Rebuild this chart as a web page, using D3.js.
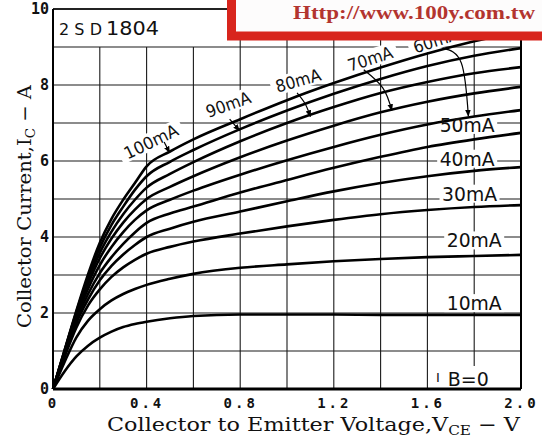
<!DOCTYPE html>
<html><head><meta charset="utf-8">
<script src="https://cdn.jsdelivr.net/npm/d3@7"></script>
<style>body{margin:0;background:#fff}svg{display:block}</style>
</head><body>
<svg id="c" width="542" height="443"></svg>
<script>
// ---- data ----
const vce = [0, 0.05, 0.1, 0.15, 0.2, 0.25, 0.3, 0.35, 0.4, 0.5, 0.6, 0.8, 1.0, 1.2, 1.4, 1.6, 1.8, 2.0];
const ib10  = [0, 0.47, 0.86, 1.14, 1.35, 1.51, 1.63, 1.71, 1.77, 1.86, 1.92, 1.96, 1.96, 1.96, 1.95, 1.95, 1.95, 1.95];
const ib20  = [0, 0.72, 1.36, 1.80, 2.10, 2.33, 2.50, 2.63, 2.74, 2.90, 3.03, 3.19, 3.28, 3.36, 3.42, 3.47, 3.50, 3.53];
const ib30  = [0, 0.85, 1.62, 2.20, 2.62, 2.95, 3.20, 3.40, 3.56, 3.74, 3.88, 4.09, 4.28, 4.45, 4.60, 4.71, 4.79, 4.84];
const ib40  = [0, 0.90, 1.74, 2.36, 2.86, 3.24, 3.54, 3.79, 4.00, 4.22, 4.40, 4.67, 4.94, 5.20, 5.42, 5.60, 5.74, 5.84];
const ib50  = [0, 0.94, 1.82, 2.50, 3.05, 3.47, 3.82, 4.12, 4.37, 4.62, 4.80, 5.17, 5.50, 5.82, 6.11, 6.37, 6.57, 6.74];
const ib60  = [0, 0.97, 1.90, 2.64, 3.26, 3.74, 4.13, 4.45, 4.70, 4.98, 5.22, 5.64, 6.02, 6.37, 6.69, 6.96, 7.17, 7.34];
const ib70  = [0, 0.99, 1.96, 2.76, 3.44, 3.96, 4.38, 4.72, 5.00, 5.32, 5.60, 6.10, 6.54, 6.93, 7.28, 7.56, 7.78, 7.95];
const ib80  = [0, 1.01, 2.00, 2.86, 3.58, 4.14, 4.60, 4.98, 5.30, 5.66, 5.97, 6.52, 7.00, 7.42, 7.79, 8.08, 8.31, 8.47];
const ib90  = [0, 1.02, 2.03, 2.94, 3.72, 4.32, 4.80, 5.24, 5.60, 5.98, 6.29, 6.84, 7.33, 7.77, 8.16, 8.50, 8.77, 8.97];
const ib100 = [0, 1.03, 2.06, 3.02, 3.85, 4.48, 4.98, 5.42, 5.86, 6.25, 6.57, 7.10, 7.60, 8.05, 8.46, 8.83, 9.15, 9.42];
const ib0   = [0, 0, 0, 0, 0, 0, 0, 0, 0, 0, 0, 0, 0, 0, 0, 0, 0, 0];
const seriesList = [ib0, ib10, ib20, ib30, ib40, ib50, ib60, ib70, ib80, ib90, ib100];

const xTickValues = [0, 0.4, 0.8, 1.2, 1.6, 2.0];
const xTickLabels = ["0", "0.4", "0.8", "1.2", "1.6", "2.0"];
const yTickValues = [0, 2, 4, 6, 8, 10];
const yTickLabels = ["0", "2", "4", "6", "8", "10"];

const partName = ["2SD", "1804"];
// upright labels: text, anchor VCE, anchor IC (centre)
const flatLabels = [
  {t: "50mA", x: 1.77, y: 6.95},
  {t: "40mA", x: 1.77, y: 6.06},
  {t: "30mA", x: 1.78, y: 5.14},
  {t: "20mA", x: 1.80, y: 3.91},
  {t: "10mA", x: 1.80, y: 2.26},
];
// rotated labels: text, centre (VCE, IC), angle
const slantLabels = [
  {t: "100mA", x: 0.418, y: 6.52, a: -26},
  {t: "90mA",  x: 0.748, y: 7.50, a: -20},
  {t: "80mA",  x: 1.047, y: 8.13, a: -16},
  {t: "70mA",  x: 1.355, y: 8.70, a: -18},
  {t: "60mA",  x: 1.635, y: 9.18, a: -18},
];
// arrows: list of (VCE, IC) points from label to curve
const arrows = [
  [[0.475, 6.50], [0.498, 6.22]],
  [[0.755, 7.10], [0.797, 6.80]],
  [[1.043, 7.79], [1.078, 7.50], [1.100, 7.17]],
  [[1.328, 8.40], [1.410, 7.92], [1.448, 7.33]],
  [[1.665, 8.97], [1.745, 8.58], [1.775, 7.18]],
];
const stampText = "Http://www.100y.com.tw";

// ---- drawing ----
const svg = d3.select("#c");
svg.append("rect").attr("width", 542).attr("height", 443).attr("fill", "#fff");

const x = d3.scaleLinear().domain([0, 2]).range([53, 521]);
const y = d3.scaleLinear().domain([0, 10]).range([389, 9]);

const grid = svg.append("g").attr("stroke", "#1a1a1a").attr("stroke-width", 1.1);
d3.range(0, 2.0001, 0.2).forEach(v => {
  const top = (v > 0.01 && v < 0.79) ? y(9) : y(10);
  grid.append("line").attr("x1", x(v)).attr("x2", x(v)).attr("y1", top).attr("y2", y(0));
});
d3.range(0, 10.001, 1).forEach(v => {
  grid.append("line").attr("x1", x(0)).attr("x2", x(2)).attr("y1", y(v)).attr("y2", y(v));
});
// frame
svg.append("line").attr("x1", x(0)).attr("x2", x(0)).attr("y1", y(10)).attr("y2", y(0)).attr("stroke", "#000").attr("stroke-width", 2);
svg.append("line").attr("x1", x(2)).attr("x2", x(2)).attr("y1", y(10)).attr("y2", y(0)).attr("stroke", "#000").attr("stroke-width", 2);
svg.append("line").attr("x1", x(0)).attr("x2", x(2)).attr("y1", y(10)).attr("y2", y(10)).attr("stroke", "#000").attr("stroke-width", 1.6);

// part number
svg.append("text").attr("x", 59).attr("y", 35).attr("font-family", "DejaVu Sans").attr("font-size", 16)
  .attr("textLength", 43).attr("lengthAdjust", "spacing").attr("fill", "#111").text(partName[0]);
svg.append("text").attr("x", 106).attr("y", 35).attr("font-family", "DejaVu Sans").attr("font-size", 20)
  .attr("textLength", 53).attr("lengthAdjust", "spacingAndGlyphs").attr("fill", "#111").text(partName[1]);

const labelFont = "DejaVu Sans";
// white backing for labels (interrupt grid)
flatLabels.forEach(d => {
  svg.append("rect").attr("x", x(d.x) - 30).attr("y", y(d.y) - 9).attr("width", 60).attr("height", 18).attr("fill", "#fff");
});
slantLabels.forEach(d => {
  const w = d.t.length * 12.5 + 6;
  svg.append("rect").attr("transform", `translate(${x(d.x)},${y(d.y)}) rotate(${d.a})`)
    .attr("x", -w / 2).attr("y", -9).attr("width", w).attr("height", 18).attr("fill", "#fff");
});
// IB=0 backing
svg.append("rect").attr("x", 434).attr("y", 366).attr("width", 64).attr("height", 22).attr("fill", "#fff");

// curves
const line = d3.line().x((d, i) => x(vce[i])).y(d => y(d)).curve(d3.curveMonotoneX);
svg.append("g").selectAll("path").data(seriesList).join("path")
  .attr("d", d => line(d)).attr("fill", "none").attr("stroke", "#000")
  .attr("stroke-width", (d, i) => i === 0 ? 3 : 2.6).attr("stroke-linejoin", "round");

// labels
flatLabels.forEach(d => {
  svg.append("text").attr("x", x(d.x)).attr("y", y(d.y) + 7).attr("text-anchor", "middle")
    .attr("font-family", labelFont).attr("font-size", 19).attr("fill", "#111")
    .attr("textLength", 55).attr("lengthAdjust", "spacingAndGlyphs").text(d.t);
});
slantLabels.forEach(d => {
  svg.append("text").attr("transform", `translate(${x(d.x)},${y(d.y)}) rotate(${d.a})`)
    .attr("y", 6.5).attr("text-anchor", "middle")
    .attr("font-family", labelFont).attr("font-size", 17).attr("fill", "#111")
    .attr("textLength", d.t.length * 11.6).attr("lengthAdjust", "spacingAndGlyphs").text(d.t);
});
const ibT = svg.append("text").attr("x", 436).attr("y", 386).attr("font-family", labelFont).attr("fill", "#111");
ibT.append("tspan").attr("font-size", 13).attr("dy", -4).text("I");
ibT.append("tspan").attr("font-size", 19).attr("dx", 8).attr("dy", 4).attr("textLength", 41).attr("lengthAdjust", "spacingAndGlyphs").text("B=0");

// arrows
const defs = svg.append("defs");
defs.append("marker").attr("id", "ah").attr("viewBox", "0 0 10 10").attr("refX", 9).attr("refY", 5)
  .attr("markerWidth", 7).attr("markerHeight", 7).attr("orient", "auto-start-reverse").attr("markerUnits", "userSpaceOnUse")
  .append("path").attr("d", "M0,1 L10,5 L0,9 Z").attr("fill", "#000");
const aLine = d3.line().x(d => x(d[0])).y(d => y(d[1])).curve(d3.curveNatural);
svg.append("g").selectAll("path").data(arrows).join("path")
  .attr("d", d => aLine(d)).attr("fill", "none").attr("stroke", "#000").attr("stroke-width", 1.2)
  .attr("marker-end", "url(#ah)");

// tick labels
const xAxis = d3.axisBottom(x).tickValues(xTickValues).tickSize(0).tickPadding(0)
  .tickFormat((d, i) => xTickLabels[i]);
const gx = svg.append("g").attr("transform", "translate(0,397)").call(xAxis);
gx.select(".domain").remove();
gx.selectAll("text").attr("font-family", "DejaVu Sans Mono").attr("font-weight", "bold")
  .attr("font-size", 14).attr("letter-spacing", 3).attr("dy", "0.8em").attr("fill", "#111");

const yAxis = d3.axisLeft(y).tickValues(yTickValues).tickSize(0).tickPadding(4)
  .tickFormat((d, i) => yTickLabels[i]);
const gy = svg.append("g").attr("transform", "translate(53,0)").call(yAxis);
gy.select(".domain").remove();
gy.selectAll("text").attr("font-family", "DejaVu Sans Mono").attr("font-weight", "bold")
  .attr("font-size", 15).attr("fill", "#111");

// axis titles
const xt = svg.append("text").attr("x", 107).attr("y", 431).attr("font-family", "DejaVu Serif")
  .attr("font-size", 19).attr("fill", "#111").attr("textLength", 413).attr("lengthAdjust", "spacingAndGlyphs");
xt.append("tspan").text("Collector to Emitter Voltage,V");
xt.append("tspan").attr("font-size", 13).attr("dy", 4).text("CE");
xt.append("tspan").attr("dy", -4).text(" \u2212 V");

const yt = svg.append("text").attr("transform", "translate(31,328) rotate(-90)").attr("font-family", "DejaVu Serif")
  .attr("font-size", 19).attr("fill", "#111").attr("textLength", 243).attr("lengthAdjust", "spacingAndGlyphs");
yt.append("tspan").text("Collector Current,I");
yt.append("tspan").attr("font-size", 13).attr("dy", 4).text("C");
yt.append("tspan").attr("dy", -4).text(" \u2212 A");

// red banner (source stamp)
svg.append("rect").attr("x", 231.5).attr("y", -20).attr("width", 330).attr("height", 56)
  .attr("fill", "#fdfcfc").attr("stroke", "#d8251d").attr("stroke-width", 9);
svg.append("text").attr("x", 293).attr("y", 19).attr("font-family", "Liberation Serif").attr("font-weight", "bold")
  .attr("font-size", 19).attr("textLength", 242).attr("lengthAdjust", "spacingAndGlyphs")
  .attr("fill", "#b3342f").text(stampText);
</script>
</body></html>
